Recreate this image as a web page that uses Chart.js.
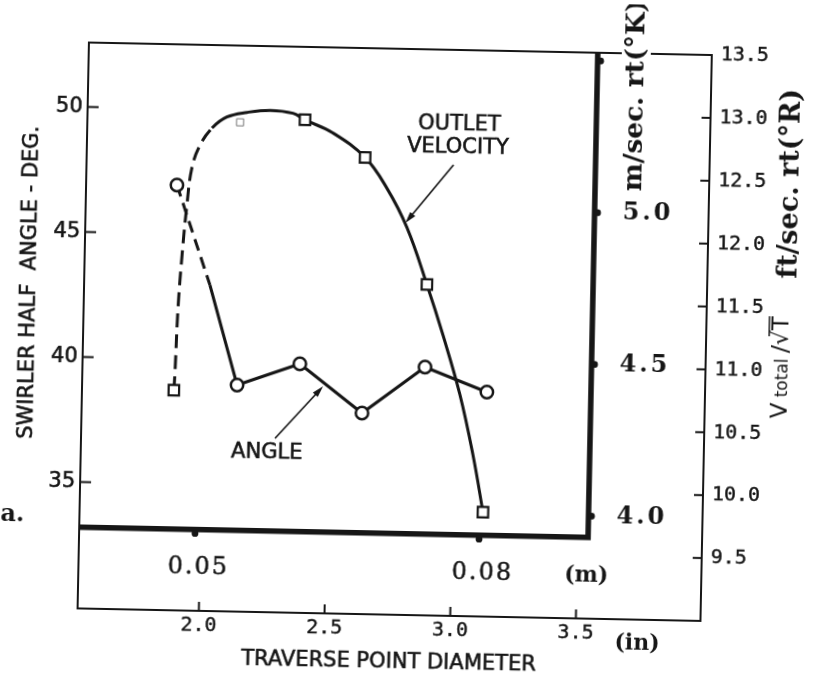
<!DOCTYPE html>
<html lang="en">
<head>
  <meta charset="UTF-8" />
  <title>Swirler half angle and outlet velocity vs traverse point diameter</title>
  <script src="https://cdn.jsdelivr.net/npm/chart.js"></script>
  <style>
    html, body {
      margin: 0;
      padding: 0;
      background: #fff;
      overflow: hidden;
    }

    #wrap {
      width: 816px;
      height: 683px;
      overflow: hidden;
    }

    /* the scanned page sits slightly tilted */
    #chart {
      display: block;
      transform: rotate(1.15deg);
      transform-origin: 408px 341.5px;
    }
  </style>
</head>
<body>
  <div id="wrap"><canvas id="chart" width="816" height="683"></canvas></div>

  <script>
    // swirler half angle (circles), x in inches
    const angleIn  = [1.879, 2.134, 2.382, 2.633, 2.880, 3.128];
    const angleDeg = [46.95, 39.00, 39.90, 37.98, 39.87, 38.92];
    // point on the first angle segment where the dashes turn solid
    const angleBreakIn = 2.018;
    const angleBreakDeg = 42.98;

    // outlet velocity (squares), ft/sec.rt(°R)
    const velIn = [1.883, 2.383, 2.625, 2.881, 3.122];
    const velFt = [10.75, 12.92, 12.63, 11.63, 9.83];

    // faired velocity curve (dashed up to 2.02 in)
    const curveIn = [1.883, 1.886, 1.893, 1.905, 1.920, 1.937, 1.967, 2.014,
                     2.072, 2.152, 2.243, 2.335, 2.383, 2.495, 2.625, 2.714,
                     2.797, 2.881, 2.949, 3.021, 3.078, 3.122];
    const curveFt = [10.75, 10.89, 11.40, 11.83, 12.22, 12.52, 12.70, 12.84,
                     12.93, 12.97, 12.99, 12.97, 12.92, 12.82, 12.63, 12.39,
                     12.08, 11.63, 11.23, 10.76, 10.28, 9.83];
    const curveDashEnd = 2.02;

    // faint broken square under the curve
    const faintIn = [2.125];
    const faintFt = [12.89];

    // tick values
    const angleTicks = [35, 40, 45, 50];
    const inTicks = [2.0, 2.5, 3.0, 3.5];
    const ftTicks = [9.5, 10.0, 10.5, 11.0, 11.5, 12.0, 12.5, 13.0, 13.5];
    const msTicks = [4.0, 4.5, 5.0, 5.5];
    const msLabels = ['4.0', '4.5', '5.0', ''];
    const mTicks = [0.05, 0.08];
    const mLabels = ['0.05', '0.08'];

    // where the inner (metric) axes sit
    const metricFloorMs = 3.93;   // m/sec value of the thick bottom line
    const metricWallIn = 3.542;   // inch value of the thick right line

    const INK = '#161616';

    const pts = (xs, ys) => xs.map((x, i) => ({ x: x, y: ys[i] }));

    const angleLine = [{ x: angleIn[0], y: angleDeg[0] },
                       { x: angleBreakIn, y: angleBreakDeg }]
                       .concat(pts(angleIn.slice(1), angleDeg.slice(1)));

    function seg(ctx, x1, y1, x2, y2) {
      ctx.beginPath();
      ctx.moveTo(x1, y1);
      ctx.lineTo(x2, y2);
      ctx.stroke();
    }

    // heavy > 0 adds a thin outline so the type looks like the inked original
    function label(ctx, str, x, y, font, align, rot, spacing, heavy) {
      ctx.save();
      ctx.translate(x, y);
      if (rot) ctx.rotate(rot);
      ctx.font = font;
      ctx.textAlign = align || 'center';
      ctx.textBaseline = 'middle';
      ctx.letterSpacing = spacing || '0px';
      ctx.fillStyle = INK;
      ctx.fillText(str, 0, 0);
      if (heavy) {
        ctx.strokeStyle = INK;
        ctx.lineWidth = heavy;
        ctx.strokeText(str, 0, 0);
      }
      ctx.restore();
    }

    function arrow(ctx, x1, y1, x2, y2) {
      const a = Math.atan2(y2 - y1, x2 - x1);
      ctx.lineWidth = 1.6;
      seg(ctx, x1, y1, x2 - 6 * Math.cos(a), y2 - 6 * Math.sin(a));
      ctx.beginPath();
      ctx.moveTo(x2, y2);
      ctx.lineTo(x2 - 12 * Math.cos(a - 0.28), y2 - 12 * Math.sin(a - 0.28));
      ctx.lineTo(x2 - 12 * Math.cos(a + 0.28), y2 - 12 * Math.sin(a + 0.28));
      ctx.closePath();
      ctx.fill();
    }

    const framePlugin = {
      id: 'frame',
      beforeDraw(chart) {
        const { ctx, chartArea: a, scales: s } = chart;
        ctx.save();
        ctx.fillStyle = '#fff';
        ctx.fillRect(0, 0, chart.width, chart.height);
        ctx.strokeStyle = INK;
        ctx.fillStyle = INK;

        // outer frame
        ctx.lineWidth = 2;
        ctx.strokeRect(a.left, a.top, a.right - a.left, a.bottom - a.top);

        // inward ticks
        angleTicks.forEach(v => {
          const y = s.yAng.getPixelForValue(v);
          seg(ctx, a.left, y, a.left + 11, y);
        });
        inTicks.forEach(v => {
          const x = s.x.getPixelForValue(v);
          seg(ctx, x, a.bottom, x, a.bottom - 9);
        });
        ftTicks.slice(0, -1).forEach(v => {
          const y = s.yFt.getPixelForValue(v);
          seg(ctx, a.right, y, a.right - 9, y);
        });

        // thick metric axes
        const yb = s.yMs.getPixelForValue(metricFloorMs);
        const xr = s.x.getPixelForValue(metricWallIn);
        ctx.lineWidth = 5.5;
        ctx.lineJoin = 'miter';
        ctx.beginPath();
        ctx.moveTo(a.left, yb);
        ctx.lineTo(xr, yb);
        ctx.lineTo(xr, a.top);
        ctx.stroke();

        msTicks.forEach(v => {
          const y = s.yMs.getPixelForValue(v);
          ctx.beginPath();
          ctx.arc(xr + 3, y, 3.4, 0, Math.PI * 2);
          ctx.fill();
        });
        mTicks.forEach(v => {
          const x = s.xM.getPixelForValue(v);
          ctx.beginPath();
          ctx.arc(x, yb + 4, 3.4, 0, Math.PI * 2);
          ctx.fill();
        });
        ctx.restore();
      },

      afterDatasetsDraw(chart) {
        const { ctx, chartArea: a, scales: s } = chart;
        const sans = '"DejaVu Sans", sans-serif';
        const serif = '"DejaVu Serif", serif';
        const mono = '"DejaVu Sans Mono", monospace';
        ctx.save();
        ctx.strokeStyle = INK;
        ctx.fillStyle = INK;

        const yb = s.yMs.getPixelForValue(metricFloorMs);
        const xr = s.x.getPixelForValue(metricWallIn);

        // tick labels
        angleTicks.forEach(v => {
          label(ctx, String(v), a.left - 5, s.yAng.getPixelForValue(v), '21px ' + sans, 'right', 0, '0px', 0.6);
        });
        inTicks.forEach(v => {
          label(ctx, v.toFixed(1), s.x.getPixelForValue(v), a.bottom + 15, '20px ' + mono, 'center', 0, '0px', 0.4);
        });
        ftTicks.forEach(v => {
          label(ctx, v.toFixed(1), a.right + 9, s.yFt.getPixelForValue(v), '20px ' + mono, 'left', 0, '0px', 0.4);
        });
        msTicks.forEach((v, i) => {
          if (msLabels[i]) {
            label(ctx, msLabels[i], xr + 28, s.yMs.getPixelForValue(v), '700 24px ' + serif, 'left', 0, '3px');
          }
        });
        mTicks.forEach((v, i) => {
          label(ctx, mLabels[i], s.xM.getPixelForValue(v) + 4, yb + 38, '24px ' + serif, 'center', 0, '2px', 0.5);
        });
        label(ctx, '(m)', xr - 1, yb + 39, '700 22px ' + serif);
        label(ctx, '(in)', a.right - 63, a.bottom + 24, '700 22px ' + serif);

        // axis titles
        label(ctx, 'SWIRLER HALF  ANGLE - DEG.', 29, 290, '21px ' + sans, 'center', -Math.PI / 2, '0px', 0.6);
        label(ctx, 'TRAVERSE POINT DIAMETER', 395, 663, '21px ' + sans, 'center', 0, '0px', 0.6);

        // m/sec title breaks the top frame line
        ctx.fillStyle = '#fff';
        ctx.fillRect(616, a.top - 4, 29, 10);
        label(ctx, 'm/sec. rt(\u00B0K)', 631, 91, '700 26.5px ' + serif, 'center', -Math.PI / 2);
        label(ctx, 'ft/sec. rt(\u00B0R)', 788, 176, '700 27px ' + serif, 'center', -Math.PI / 2);

        // V total / sqrt(T), written upward
        ctx.save();
        ctx.translate(780, 360);
        ctx.rotate(-Math.PI / 2);
        ctx.fillStyle = INK;
        ctx.textBaseline = 'alphabetic';
        const parts = [['V', '23px ' + sans, 0], [' total ', '17px ' + sans, 0],
                       ['/', '23px ' + sans, 0], ['\u221A', '23px ' + sans, 0], ['T', '23px ' + sans, 1]];
        let w = 0;
        parts.forEach(p => { ctx.font = p[1]; w += ctx.measureText(p[0]).width; });
        let x = -w / 2;
        parts.forEach(p => {
          ctx.font = p[1];
          const pw = ctx.measureText(p[0]).width;
          ctx.fillText(p[0], x, 8);
          if (p[2]) {
            ctx.lineWidth = 1.5;
            ctx.strokeStyle = INK;
            seg(ctx, x - 6, -11, x + pw, -11);
          }
          x += pw;
        });
        ctx.restore();

        // cut-off caption from the page
        label(ctx, 'a.', 4, 523, '700 24px ' + serif, 'left');

        // curve notes
        label(ctx, 'ANGLE', 269, 456, '21px ' + sans, 'center', 0, '0px', 0.6);
        label(ctx, 'OUTLET', 455, 124, '21px ' + sans, 'center', 0, '0px', 0.6);
        label(ctx, 'VELOCITY', 454, 147, '21px ' + sans, 'center', 0, '0px', 0.6);
        ctx.fillStyle = INK;
        arrow(ctx, 277, 441, 324, 388);
        arrow(ctx, 450, 164, 403, 223);
        ctx.restore();
      }
    };

    new Chart(document.getElementById('chart'), {
      type: 'scatter',
      data: {
        datasets: [
          {
            label: 'Angle',
            data: pts(angleIn, angleDeg),
            yAxisID: 'yAng',
            showLine: false,
            pointStyle: 'circle',
            pointRadius: 6.2,
            pointBorderWidth: 2.5,
            pointBackgroundColor: '#fff',
            pointBorderColor: INK,
            order: 0
          },
          {
            label: 'Outlet velocity',
            data: pts(velIn, velFt),
            yAxisID: 'yFt',
            showLine: false,
            pointStyle: 'rect',
            pointRadius: 7.4,
            pointBorderWidth: 2.2,
            pointBackgroundColor: '#fff',
            pointBorderColor: INK,
            order: 0
          },
          {
            label: 'faint point',
            data: pts(faintIn, faintFt),
            yAxisID: 'yFt',
            showLine: false,
            pointStyle: 'rect',
            pointRadius: 5,
            pointBorderWidth: 1,
            pointBackgroundColor: 'rgba(0,0,0,0)',
            pointBorderColor: '#777',
            order: 2
          },
          {
            label: 'Angle line',
            data: angleLine,
            yAxisID: 'yAng',
            showLine: true,
            borderColor: INK,
            borderWidth: 3,
            pointRadius: 0,
            segment: {
              borderDash: c => (c.p0DataIndex === 0 ? [12, 7] : undefined)
            },
            order: 1
          },
          {
            label: 'Velocity curve',
            data: pts(curveIn, curveFt),
            yAxisID: 'yFt',
            showLine: true,
            borderColor: INK,
            borderWidth: 3,
            tension: 0.4,
            pointRadius: 0,
            segment: {
              borderDash: c => (curveIn[c.p1DataIndex] <= curveDashEnd ? [14, 7] : undefined)
            },
            order: 1
          }
        ]
      },
      options: {
        responsive: false,
        animation: false,
        devicePixelRatio: 1,
        layout: { padding: { left: 83, top: 49, right: 110, bottom: 68 } },
        plugins: {
          legend: { display: false },
          tooltip: { enabled: false }
        },
        scales: {
          x:    { type: 'linear', display: false, min: 1.5175, max: 3.9956 },
          xM:   { type: 'linear', axis: 'x', display: false, min: 0.03776, max: 0.10355 },
          yAng: { type: 'linear', axis: 'y', display: false, min: 29.944, max: 52.575 },
          yFt:  { type: 'linear', axis: 'y', display: false, min: 9.0, max: 13.5 },
          yMs:  { type: 'linear', axis: 'y', display: false, min: 3.662, max: 5.527 }
        }
      },
      plugins: [framePlugin]
    });
  </script>
</body>
</html>
